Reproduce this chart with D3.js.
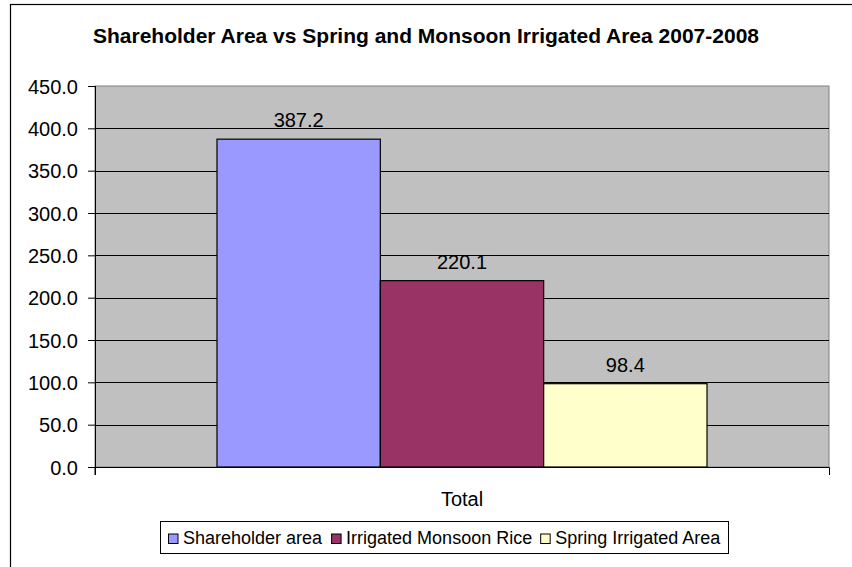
<!DOCTYPE html>
<html>
<head>
<meta charset="utf-8">
<script src="https://cdn.jsdelivr.net/npm/d3@7"></script>
<style>
  body { margin: 0; background: #fff; }
  svg { display: block; font-family: "Liberation Sans", Arial, sans-serif; }
</style>
</head>
<body>
<svg width="852" height="567"></svg>
<script>
// data
var categories = ["Total"];
var seriesNames = ["Shareholder area", "Irrigated Monsoon Rice", "Spring Irrigated Area"];
var seriesValues = [387.2, 220.1, 98.4];
var seriesColors = ["#9999ff", "#993366", "#ffffcc"];
var yTicks = [0, 50, 100, 150, 200, 250, 300, 350, 400, 450];
var title = "Shareholder Area vs Spring and Monsoon Irrigated Area 2007-2008";

var svg = d3.select("svg");
var font = "Liberation Sans, Arial, sans-serif";

// chart area border (runs past right/bottom of the window)
svg.append("rect")
  .attr("x", 10.5).attr("y", 4.5)
  .attr("width", 860).attr("height", 600)
  .attr("fill", "#fff").attr("stroke", "#000").attr("stroke-width", 1.2);

var plot = { left: 95, right: 829, top: 86, bottom: 467 };

var x0 = d3.scaleBand().domain(categories).range([plot.left, plot.right]);
var x1 = d3.scaleBand().domain(seriesNames).range([122, x0.bandwidth() - 122]);
var y = d3.scaleLinear().domain([0, 450]).range([plot.bottom, plot.top]);

// plot background
svg.append("rect")
  .attr("x", plot.left).attr("y", plot.top)
  .attr("width", plot.right - plot.left).attr("height", plot.bottom - plot.top)
  .attr("fill", "#c0c0c0").attr("stroke", "#808080").attr("stroke-width", 1);

// gridlines
svg.append("g").selectAll("line")
  .data(yTicks.filter(function(d) { return d > 0 && d < 450; }))
  .enter().append("line")
    .attr("x1", plot.left).attr("x2", plot.right)
    .attr("y1", function(d) { return Math.round(y(d)) + 0.5; })
    .attr("y2", function(d) { return Math.round(y(d)) + 0.5; })
    .attr("stroke", "#000").attr("stroke-width", 1);

// bars
var g = svg.append("g");
g.selectAll("rect.bar")
  .data(seriesValues)
  .enter().append("rect")
    .attr("class", "bar")
    .attr("x", function(d, i) { return x0("Total") + x1(seriesNames[i]); })
    .attr("y", function(d) { return y(d); })
    .attr("width", x1.bandwidth())
    .attr("height", function(d) { return y(0) - y(d); })
    .attr("fill", function(d, i) { return seriesColors[i]; })
    .attr("stroke", "#000").attr("stroke-width", 1.2);

g.selectAll("text.val")
  .data(seriesValues)
  .enter().append("text")
    .attr("class", "val")
    .attr("x", function(d, i) { return x0("Total") + x1(seriesNames[i]) + x1.bandwidth() / 2; })
    .attr("y", function(d) { return y(d) - 12; })
    .attr("text-anchor", "middle")
    .attr("font-size", 20)
    .text(function(d) { return d.toFixed(1); });

// y axis
var yAxis = d3.axisLeft(y).tickValues(yTicks).tickFormat(d3.format(".1f")).tickSize(7).tickPadding(10);
var ya = svg.append("g").attr("transform", "translate(" + plot.left + ",0)").call(yAxis);
ya.select(".domain").attr("stroke", "#000").attr("d", "M0.5," + plot.top + "V" + (plot.bottom + 8));
ya.selectAll(".tick line").attr("stroke", "#000");
ya.selectAll(".tick text").attr("font-size", 20).attr("font-family", font).attr("fill", "#000").attr("dy", "0.36em");

// x axis
var xAxis = d3.axisBottom(x0).tickSize(0).tickPadding(25);
var xa = svg.append("g").attr("transform", "translate(0," + plot.bottom + ")").call(xAxis);
xa.select(".domain").attr("stroke", "#000").attr("d", "M" + plot.left + ",8V0.5H" + (plot.right + 0.5) + "V8");
xa.selectAll(".tick text").attr("font-size", 20).attr("font-family", font).attr("fill", "#000");

// title
svg.append("text")
  .attr("x", 426).attr("y", 43)
  .attr("text-anchor", "middle")
  .attr("font-size", 21).attr("font-weight", "bold")
  .text(title);

// legend
var legend = svg.append("g");
var legendBox = legend.append("rect")
  .attr("y", 521.5).attr("height", 32)
  .attr("fill", "#fff").attr("stroke", "#000").attr("stroke-width", 1);
var items = legend.selectAll("g.item")
  .data(seriesNames)
  .enter().append("g").attr("class", "item");
items.append("rect")
  .attr("x", 0.5).attr("y", -9.5)
  .attr("width", 9.5).attr("height", 9.5)
  .attr("fill", function(d, i) { return seriesColors[i]; })
  .attr("stroke", "#000").attr("stroke-width", 1);
items.append("text")
  .attr("x", 15).attr("y", 0)
  .attr("font-size", 18)
  .text(function(d) { return d; });
var widths = [];
items.each(function() { widths.push(this.getBBox().width); });
var gap = 8.5;
var total = d3.sum(widths) + gap * (widths.length - 1);
var startX = 168;
var lx = startX;
items.attr("transform", function(d, i) {
  var t = "translate(" + lx + ",543.5)";
  lx += widths[i] + gap;
  return t;
});
legendBox.attr("x", 160.5).attr("width", Math.round(startX + total + 7 - 160));
</script>
</body>
</html>
